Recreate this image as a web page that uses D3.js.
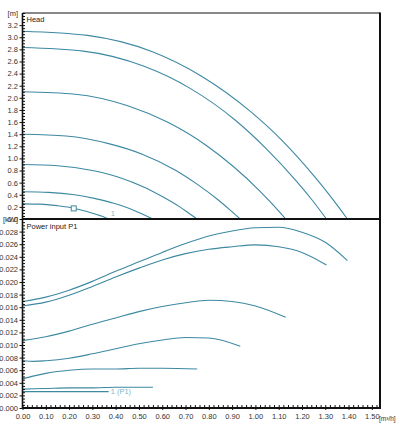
<!DOCTYPE html>
<html>
<head>
<meta charset="utf-8">
<script src="https://cdn.jsdelivr.net/npm/d3@7"></script>
<style>
  body { margin: 0; background: #fff; }
  text { font-family: "Liberation Sans", Arial, sans-serif; }
</style>
</head>
<body>
<svg id="chart" width="396" height="423"></svg>
<script>
// tick values
const qTicks = [0, 0.1, 0.2, 0.3, 0.4, 0.5, 0.6, 0.7, 0.8, 0.9, 1.0, 1.1, 1.2, 1.3, 1.4, 1.5];
const headTicks = [0, 0.2, 0.4, 0.6, 0.8, 1.0, 1.2, 1.4, 1.6, 1.8, 2.0, 2.2, 2.4, 2.6, 2.8, 3.0, 3.2];
const powerTicks = [0, 0.002, 0.004, 0.006, 0.008, 0.010, 0.012, 0.014, 0.016, 0.018, 0.020, 0.022, 0.024, 0.026, 0.028];

// head curves [Q m3/h, H m]
const headA = [[0, 3.10], [0.279, 3.03], [0.558, 2.76], [0.767, 2.36], [0.977, 1.78], [1.116, 1.29], [1.256, 0.69], [1.325, 0.36], [1.395, 0]];
const headB = [[0, 2.83], [0.261, 2.77], [0.522, 2.52], [0.718, 2.16], [0.914, 1.63], [1.044, 1.17], [1.175, 0.63], [1.240, 0.33], [1.305, 0]];
const headC = [[0, 2.10], [0.226, 2.06], [0.452, 1.87], [0.622, 1.60], [0.791, 1.21], [0.904, 0.87], [1.017, 0.47], [1.074, 0.24], [1.130, 0]];
const headD = [[0, 1.40], [0.187, 1.37], [0.374, 1.24], [0.514, 1.07], [0.655, 0.81], [0.748, 0.58], [0.842, 0.31], [0.888, 0.16], [0.935, 0]];
const headE = [[0, 0.90], [0.150, 0.88], [0.300, 0.80], [0.413, 0.69], [0.525, 0.52], [0.600, 0.37], [0.675, 0.20], [0.713, 0.10], [0.750, 0]];
const headF = [[0, 0.45], [0.112, 0.44], [0.224, 0.40], [0.308, 0.34], [0.392, 0.26], [0.448, 0.19], [0.504, 0.10], [0.532, 0.05], [0.560, 0]];
const headG = [[0, 0.25], [0.074, 0.245], [0.148, 0.22], [0.204, 0.19], [0.259, 0.14], [0.296, 0.10], [0.333, 0.056], [0.352, 0.03], [0.370, 0]];

// power curves [Q m3/h, P1 kW]
const powerA = [[0, 0.0169], [0.1, 0.0176], [0.2, 0.0187], [0.3, 0.0201], [0.4, 0.0217], [0.5, 0.0232], [0.6, 0.0247], [0.7, 0.0261], [0.8, 0.0273], [0.9, 0.0281], [1.0, 0.0286], [1.1, 0.0287], [1.2, 0.0279], [1.3, 0.0263], [1.395, 0.0234]];
const powerB = [[0, 0.0162], [0.1, 0.0168], [0.2, 0.0179], [0.3, 0.0193], [0.4, 0.0208], [0.5, 0.0222], [0.6, 0.0235], [0.7, 0.0245], [0.8, 0.0252], [0.9, 0.0256], [1.0, 0.0259], [1.1, 0.0256], [1.2, 0.0247], [1.305, 0.0227]];
const powerC = [[0, 0.0107], [0.1, 0.0113], [0.2, 0.0122], [0.3, 0.0133], [0.4, 0.0143], [0.5, 0.0153], [0.6, 0.0161], [0.7, 0.0167], [0.8, 0.0171], [0.9, 0.0169], [1.0, 0.0162], [1.13, 0.0144]];
const powerD = [[0, 0.0075], [0.05, 0.0074], [0.1, 0.0075], [0.2, 0.0079], [0.3, 0.0086], [0.4, 0.0094], [0.5, 0.0102], [0.6, 0.0108], [0.7, 0.0112], [0.8, 0.0111], [0.935, 0.0098]];
const powerE = [[0, 0.0046], [0.05, 0.0051], [0.1, 0.0055], [0.15, 0.0058], [0.2, 0.0060], [0.3, 0.0062], [0.4, 0.0062], [0.5, 0.0063], [0.6, 0.0063], [0.75, 0.0062]];
const powerF = [[0, 0.0030], [0.1, 0.0031], [0.2, 0.0032], [0.3, 0.0032], [0.4, 0.0033], [0.56, 0.0033]];
const powerG = [[0, 0.0026], [0.37, 0.0026]];

// duty point
const dutyPoint = [0.22, 0.175];

const lineColor = '#3d89a2';
const labelColor = '#7cb6ca';

const svg = d3.select('#chart');

const left = 22.5, right = 380;
const headTop = 13, mid = 219, bottom = 408;

const x = d3.scaleLinear().domain([0, 1.535]).range([left, right]);
const yH = d3.scaleLinear().domain([0, 3.4]).range([mid, headTop]);
const yP = d3.scaleLinear().domain([0, 0.030]).range([bottom, mid]);

const line = (ys) => d3.line()
  .x(d => x(d[0]))
  .y(d => ys(d[1]))
  .curve(d3.curveMonotoneX);

// curves
const gCurves = svg.append('g').attr('fill', 'none').attr('stroke', lineColor).attr('stroke-width', 1.1);
[headA, headB, headC, headD, headE, headF, headG].forEach(c => {
  gCurves.append('path').attr('d', line(yH)(c));
});
[powerA, powerB, powerC, powerD, powerE, powerF, powerG].forEach(c => {
  gCurves.append('path').attr('d', line(yP)(c));
});

// duty point marker
svg.append('rect')
  .attr('x', x(dutyPoint[0]) - 2.5)
  .attr('y', yH(dutyPoint[1]) - 2.5)
  .attr('width', 5).attr('height', 5)
  .attr('fill', '#fff')
  .attr('stroke', lineColor);

svg.append('text')
  .attr('x', x(headG[headG.length - 1][0]) + 2)
  .attr('y', yH(0) - 3)
  .attr('font-size', 7.5).attr('fill', labelColor)
  .text('1');

svg.append('text')
  .attr('x', x(powerG[powerG.length - 1][0]) + 2)
  .attr('y', yP(powerG[0][1]) + 2.5)
  .attr('font-size', 7.5).attr('fill', labelColor)
  .text('1 (P1)');

// axes
function minor (a, b, step) {
  const out = [];
  for (let i = 0; a + i * step <= b + 1e-9; i++) out.push(+(a + i * step).toFixed(6));
  return out;
}

function styleAxis (g) {
  g.select('.domain').remove();
  g.selectAll('line').attr('stroke', '#111');
  g.selectAll('text').attr('font-size', 7.5).attr('fill', '#333').attr('font-family', '"Liberation Sans", Arial, sans-serif');
}

// head axis
svg.append('g').attr('transform', `translate(${left},0)`)
  .call(d3.axisLeft(yH).tickValues(headTicks).tickSize(3).tickPadding(1.5).tickFormat(d3.format('.1f')))
  .call(styleAxis);
svg.append('g').attr('transform', `translate(${left},0)`)
  .call(d3.axisRight(yH).tickValues(minor(0, 3.4, 0.05)).tickSize(2.5).tickFormat(''))
  .call(styleAxis);

// power axis
svg.append('g').attr('transform', `translate(${left},0)`)
  .call(d3.axisLeft(yP).tickValues(powerTicks).tickSize(3).tickPadding(1.5).tickFormat(d3.format('.3f')))
  .call(styleAxis);
svg.append('g').attr('transform', `translate(${left},0)`)
  .call(d3.axisRight(yP).tickValues(minor(0, 0.030, 0.0005)).tickSize(2.5).tickFormat(''))
  .call(styleAxis);

// x axis
svg.append('g').attr('transform', `translate(0,${bottom})`)
  .call(d3.axisBottom(x).tickValues(qTicks).tickSize(2).tickPadding(4).tickFormat(d3.format('.2f')))
  .call(styleAxis);
svg.append('g').attr('transform', `translate(0,${bottom})`)
  .call(d3.axisTop(x).tickValues(minor(0, 1.52, 0.02)).tickSize(3).tickFormat(''))
  .call(styleAxis);

// unit labels
const unit = svg.append('g').attr('font-size', 7.5).attr('fill', '#333');
unit.append('text').attr('x', left - 4.5).attr('y', yH(3.4) + 2.7).attr('text-anchor', 'end').text('[m]');
unit.append('text').attr('x', left - 4.5).attr('y', yP(0.030) + 2.7).attr('text-anchor', 'end').text('[kW]');
unit.append('text').attr('x', 379).attr('y', bottom + 12.5).attr('font-size', 6.5).text('[m³/h]');

// frame
svg.append('line').attr('x1', left).attr('x2', right).attr('y1', headTop).attr('y2', headTop)
  .attr('stroke', '#111').attr('stroke-width', 1);
svg.append('line').attr('x1', left).attr('x2', left).attr('y1', headTop).attr('y2', bottom)
  .attr('stroke', '#111').attr('stroke-width', 1.6);
svg.append('line').attr('x1', right).attr('x2', right).attr('y1', headTop - 0.5).attr('y2', bottom + 1)
  .attr('stroke', '#111').attr('stroke-width', 2);
svg.append('line').attr('x1', left).attr('x2', right + 1).attr('y1', mid).attr('y2', mid)
  .attr('stroke', '#111').attr('stroke-width', 2);
svg.append('line').attr('x1', left).attr('x2', right + 1).attr('y1', bottom).attr('y2', bottom)
  .attr('stroke', '#111').attr('stroke-width', 2);

// panel titles
svg.append('text').attr('x', left + 4).attr('y', headTop + 9).attr('font-size', 7.5).attr('fill', '#222').text('Head');
svg.append('text').attr('x', left + 4).attr('y', mid + 10).attr('font-size', 7.5).attr('fill', '#222').text('Power input P1');
</script>
</body>
</html>
